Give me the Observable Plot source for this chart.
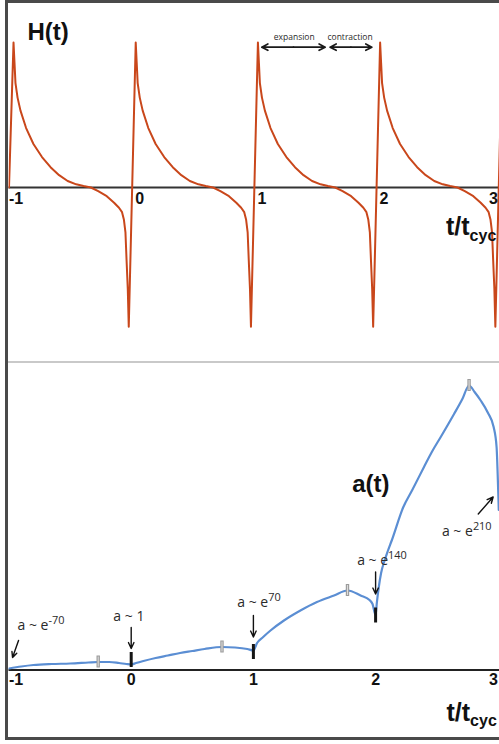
<!DOCTYPE html>
<html>
<head>
<meta charset="utf-8">
<script src="https://cdn.jsdelivr.net/npm/d3@7"></script>
<script src="https://cdn.jsdelivr.net/npm/@observablehq/plot@0.6"></script>
<style>
  html, body { margin: 0; padding: 0; background: #fff; overflow: hidden; }
  #wrap { position: relative; width: 499px; height: 744px; overflow: hidden; background: #fff; }
  #topPanel { position: absolute; left: 0; top: 0; }
  #botPanel { position: absolute; left: 0; top: 362px; }
  #frame { position: absolute; left: 5px; top: 0; width: 620px; height: 740px; box-sizing: border-box;
           border: 3px solid #4a4a4a; border-right: none; pointer-events: none; }
  #divider { position: absolute; left: 8px; top: 361px; width: 491px; height: 0; border-top: 2px solid #c9c9c9; }
  svg { display: block; }
</style>
</head>
<body>
<div id="wrap">
  <div id="topPanel"></div>
  <div id="botPanel"></div>
  <div id="divider"></div>
  <div id="frame"></div>
</div>
<script>
// ---------- data ----------
// axis ticks (cycle time t / t_cyc)
const ticks = [-1, 0, 1, 2, 3];
const tickLabels = ["-1", "0", "1", "2", "3"];

// H(t): shape of one cycle (phase u within a cycle, H relative to peak)
const cycles = [-1, 0, 1, 2, 3];
const hPhase = [-0.02, 0.037, 0.045, 0.053, 0.07, 0.094, 0.14, 0.2, 0.27, 0.34, 0.41, 0.48, 0.55, 0.61, 0.67, 0.73, 0.8, 0.86, 0.9, 0.925, 0.94, 0.953, 0.962, 0.972];
const hValue = [-0.96, 1.0, 0.86, 0.72, 0.62, 0.53, 0.41, 0.30, 0.21, 0.14, 0.085, 0.045, 0.022, 0.01, 0.0, -0.025, -0.06, -0.105, -0.14, -0.17, -0.22, -0.31, -0.5, -0.7];

// a(t): scale factor (arbitrary height units above the axis)
const aT = [-1.0, -0.9, -0.8, -0.65, -0.5, -0.35, -0.27, -0.18, -0.1, -0.04, 0.0, 0.04, 0.1, 0.2, 0.3, 0.4, 0.5, 0.6, 0.743, 0.85, 0.95, 1.0,
            1.03, 1.08, 1.14, 1.25, 1.385, 1.52, 1.66, 1.77, 1.877, 1.95, 1.975, 2.0,
            2.01, 2.025, 2.045, 2.075, 2.1, 2.132, 2.227, 2.3, 2.396, 2.46, 2.533, 2.642, 2.71, 2.765, 2.81, 2.86, 2.92, 2.966, 2.99, 3.003, 3.008];
const aV = [1.5, 3.5, 5, 6, 6.5, 7.5, 8, 8, 7, 6, 5.5, 7, 9, 12, 14.5, 17, 19, 21, 23, 22.5, 21, 19.5,
            27, 33, 39.5, 49.5, 59.5, 68, 74.5, 79.5, 74.5, 70, 66, 55,
            67, 82, 97, 110, 119, 129.5, 163, 180, 203, 218, 233, 256, 271, 284.5, 278, 269.5, 257, 243, 223, 180, 160];

// turnaround markers on a(t)
const maxT = [-0.27, 0.743, 1.77, 2.765];
const maxV = [8, 23, 79.5, 284.5];
const bounceT = [0, 1, 2];
const bounceV = [10, 18, 54.5];

// annotations of a(t)
const noteText = ["a ~ e^-70", "a ~ 1", "a ~ e^70", "a ~ e^140", "a ~ e^210"];
const noteT = [-0.930, -0.146, 0.868, 1.849, 2.543];
const noteV = [40.5, 49.5, 62.8, 105.5, 134.5];
const noteArrowT1 = [-0.922, 0, 1.0, 2.0, 2.84];
const noteArrowV1 = [29.5, 42.5, 54.5, 98, 156];
const noteArrowT2 = [-0.971, 0, 1.0, 2.0, 2.962];
const noteArrowV2 = [12.5, 21.5, 33, 76, 173];

// expansion / contraction phase annotation (t positions, H level)
const phaseText = ["expansion", "contraction"];
const phaseMid = [1.328, 1.798];
const phaseEnds = [[1.069, 1.587], [1.628, 1.969]];
const phaseLevel = 0.968;
const phaseTextLevel = 1.037;

// ---------- tables ----------
const hData = [];
for (const k of cycles) {
  if (k === -1) hData.push({t: -1, h: 0});
  hPhase.forEach((u, i) => {
    if (k === -1 && u < 0) return;
    hData.push({t: k + u, h: hValue[i]});
  });
}
const aData = aT.map((t, i) => ({t, v: aV[i]}));
const maxData = maxT.map((t, i) => ({t, v: maxV[i]}));
const bounceData = bounceT.map((t, i) => ({t, v: bounceV[i]}));
const notes = noteText.map((s, i) => ({s, t: noteT[i], v: noteV[i]}));
const noteArrows = noteText.map((s, i) => ({x1: noteArrowT1[i], y1: noteArrowV1[i], x2: noteArrowT2[i], y2: noteArrowV2[i]}));
const phaseArrows = phaseMid.flatMap((m, i) => phaseEnds[i].map(e => ({x1: m, x2: e, y: phaseLevel})));
const phaseLabels = phaseText.map((s, i) => ({s, t: phaseMid[i] + (i === 0 ? 0.006 : -0.007), y: phaseTextLevel}));
const tickData = ticks.map((t, i) => ({t, s: tickLabels[i]}));

const X = {domain: [-1, 3], range: [8.5, 497.3]};
const bold = {fontFamily: "Liberation Sans, Arial, sans-serif", fontWeight: "bold", fill: "#111"};
const note = {fontFamily: "Open Sans, sans-serif", fill: "#2a2a2a"};

function tickMarks(yVal, midAnchor, midDx) {
  const first = tickData.filter(d => d.t === ticks[0]);
  const last = tickData.filter(d => d.t === ticks[ticks.length - 1]);
  const mid = tickData.filter(d => d.t !== ticks[0] && d.t !== ticks[ticks.length - 1]);
  const common = {...bold, fontSize: 16, lineAnchor: "bottom", text: "s", x: "t", y: () => yVal};
  return [
    Plot.text(first, {...common, textAnchor: "start"}),
    Plot.text(mid, {...common, textAnchor: midAnchor, dx: midDx}),
    Plot.text(last, {...common, textAnchor: "end"})
  ];
}

// ---------- top panel: H(t) ----------
const topPlot = Plot.plot({
  width: 499, height: 362,
  marginLeft: 8.5, marginRight: 0, marginTop: 0, marginBottom: 0,
  x: {...X, axis: null},
  y: {domain: [-1, 1], range: [332, 42], axis: null},
  marks: [
    Plot.ruleY([0], {stroke: "#333", strokeWidth: 1.8}),
    Plot.line(hData, {x: "t", y: "h", stroke: "#c9471b", strokeWidth: 2, clip: true}),
    ...tickMarks(-0.117, "start", 4),
    Plot.text(["H(t)"], {...bold, fontSize: 24, x: () => -0.849, y: () => 1.014, textAnchor: "start", lineAnchor: "bottom", text: d => d}),
    Plot.text(["t/t_cyc"], {...bold, fontSize: 25, x: () => 2.576, y: () => -0.331, textAnchor: "start", lineAnchor: "bottom", text: d => d}),
    Plot.arrow(phaseArrows, {x1: "x1", x2: "x2", y1: "y", y2: "y", stroke: "#1a1a1a", strokeWidth: 1.7, headLength: 6, headAngle: 55}),
    Plot.text(phaseLabels, {...note, fontSize: 8.5, x: "t", y: "y", text: "s", textAnchor: "middle"})
  ]
});

// ---------- bottom panel: a(t) ----------
const botPlot = Plot.plot({
  width: 499, height: 382,
  marginLeft: 8.5, marginRight: 0, marginTop: 0, marginBottom: 0,
  x: {...X, axis: null},
  y: {domain: [0, 300], range: [307.5, 7.5], axis: null},
  marks: [
    Plot.ruleY([0], {stroke: "#222", strokeWidth: 2.2}),
    Plot.line(aData, {x: "t", y: "v", stroke: "#5b8ed3", strokeWidth: 2.2, curve: "monotone-x", clip: true}),
    Plot.ruleX(maxData, {x: "t", y1: d => d.v - 6, y2: d => d.v + 6, stroke: "#9b9b9b", strokeWidth: 3.4}),
    Plot.ruleX(maxData, {x: "t", y1: d => d.v - 5, y2: d => d.v + 5, stroke: "#dcdcdc", strokeWidth: 1.1}),
    Plot.ruleX(bounceData, {x: "t", y1: d => d.v - 7.5, y2: d => d.v + 7.5, stroke: "#151515", strokeWidth: 3}),
    Plot.arrow(noteArrows, {x1: "x1", y1: "y1", x2: "x2", y2: "y2", stroke: "#111", strokeWidth: 1.4, headLength: 7, headAngle: 50}),
    Plot.text(notes, {...note, fontSize: 14, x: "t", y: "v", text: "s", textAnchor: "start", lineAnchor: "bottom"}),
    Plot.text(["a(t)"], {...bold, fontSize: 24, x: () => 1.808, y: () => 177.8, textAnchor: "start", lineAnchor: "bottom", text: d => d}),
    Plot.text(["t/t_cyc"], {...bold, fontSize: 25, x: () => 2.58, y: () => -50.5, textAnchor: "start", lineAnchor: "bottom", text: d => d}),
    ...tickMarks(-14.5, "middle", 0)
  ]
});

// superscripts (^) and subscripts (_) as real text tspans
function scripts(svg) {
  d3.select(svg).selectAll("text").each(function () {
    const s = this.textContent;
    const m = s.match(/^(.*?)([\^_])(.+)$/);
    if (!m) return;
    const sup = m[2] === "^";
    this.textContent = "";
    d3.select(this).append("tspan").text(m[1]);
    d3.select(this).append("tspan")
      .attr("font-size", sup ? "0.78em" : "0.64em")
      .attr("dy", sup ? "-0.55em" : "0.35em")
      .text(m[3]);
  });
}
scripts(topPlot);
scripts(botPlot);

document.getElementById("topPanel").append(topPlot);
document.getElementById("botPanel").append(botPlot);
</script>
</body>
</html>
